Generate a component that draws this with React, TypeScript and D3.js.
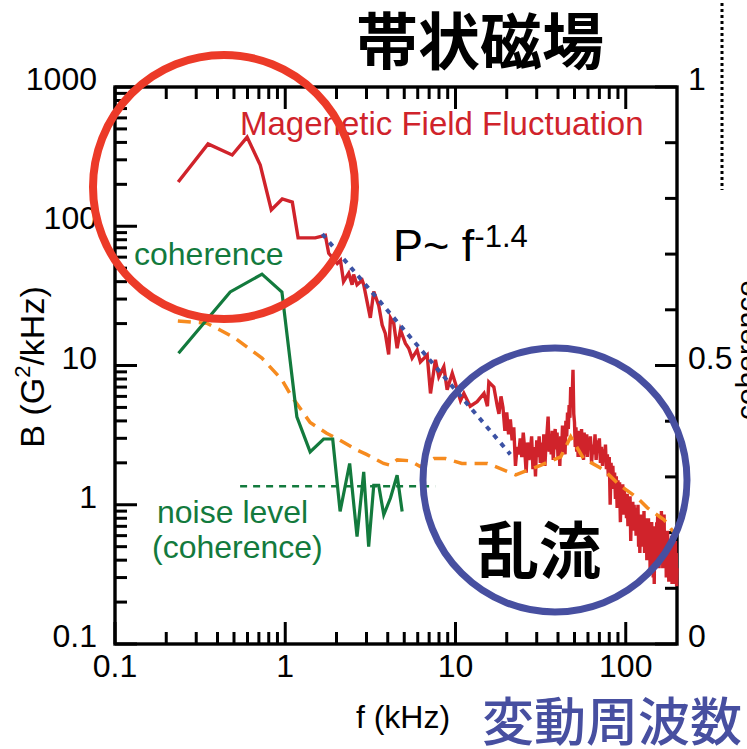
import React from 'react';
import * as d3 from 'd3';

// magnetic field fluctuation spectrum, low frequency part (f in kHz, B in G^2/kHz)
const magLowF = [0.235, 0.352, 0.488, 0.597, 0.713, 0.828, 0.96, 1.1, 1.19, 1.5, 1.72, 1.8, 2.02, 2.11, 2.2, 2.36, 2.47, 2.52, 2.64, 2.83, 2.89, 3.02, 3.16, 3.31, 3.54, 3.71, 3.87, 4.05, 4.15, 4.34, 4.54, 4.75, 5.08, 5.31, 5.56, 5.95, 6.22, 6.82, 7.13, 7.62, 7.98, 8.54, 8.93, 9.57, 10.0, 10.7, 11.2, 12.2, 13.4, 14.7, 15.4, 15.7, 16.8, 17.6];
const magLowB = [208, 390, 325, 437, 275, 131, 157, 149, 82.5, 82.5, 86, 64, 54, 57, 40, 46, 38, 45, 38, 41, 38, 29, 22, 34, 27, 19.5, 17, 12, 22, 20, 13.3, 18, 14.4, 13.3, 11.3, 12.9, 10.6, 11.9, 6.3, 11, 8.3, 9.8, 6.7, 8.8, 7.4, 5.6, 6.3, 5.1, 5.5, 6.3, 5.1, 7.6, 7.0, 5.1];

// FFT bins 18..60 kHz, 0.5 kHz apart
const magMidStart = 18;
const magMidStep = 0.5;
const magMidB = [
  4.5, 6.0, 5.0, 3.4, 4.6, 3.2, 4.1, 2.9, 3.6, 1.9,
  2.6, 2.3, 3.0, 2.2, 3.3, 2.5, 1.7, 2.8, 2.1, 2.4,
  3.1, 1.8, 2.6, 1.6, 2.9, 2.2, 3.1, 2.0, 2.8, 1.9,
  3.2, 1.9, 2.7, 3.3, 4.3, 2.4, 3.0, 2.3, 3.4, 2.1,
  2.9, 3.5, 2.5, 3.3, 2.2, 3.0, 1.9, 3.1, 2.4, 3.7,
  2.6, 3.4, 2.3, 4.0, 3.1, 4.6, 3.5, 5.2, 4.2, 7.0,
  5.0, 6.2, 9.3, 4.5, 3.9, 2.6, 3.6, 2.4, 3.3, 2.2,
  3.4, 2.5, 3.1, 2.2, 3.5, 2.6, 3.0, 2.1, 3.3, 2.4,
  2.9, 2.3, 3.2, 2.2, 3.0,
];

// FFT bins 61..200 kHz, 1 kHz apart
const magHiStart = 61;
const magHiStep = 1;
const magHiB = [
  2.5, 3.1, 2.0, 2.7, 2.3, 3.2, 2.1, 2.9, 2.4, 3.0,
  2.0, 2.6, 1.9, 2.5, 2.1, 2.7, 1.8, 2.3, 1.6, 2.2,
  1.0, 2.0, 1.4, 1.9, 1.3, 1.7, 1.1, 1.6, 0.95, 1.5,
  1.1, 1.45, 0.75, 1.3, 0.95, 1.4, 0.85, 1.3, 1.0, 1.2,
  0.8, 1.2, 0.7, 1.1, 0.95, 1.15, 0.55, 1.0, 0.75, 1.05,
  0.65, 1.0, 0.7, 0.95, 0.6, 0.9, 0.75, 1.0, 0.5, 0.85,
  0.45, 0.8, 0.6, 0.85, 0.5, 0.8, 0.65, 0.9, 0.45, 0.75,
  0.5, 0.8, 0.4, 0.7, 0.55, 0.8, 0.45, 0.7, 0.35, 0.65,
  0.5, 0.75, 0.4, 0.7, 0.3, 0.6, 0.27, 0.65, 0.45, 0.7,
  0.4, 0.75, 0.5, 0.85, 0.45, 0.7, 0.35, 0.8, 0.5, 0.75,
  0.4, 0.9, 0.55, 0.8, 0.35, 0.7, 0.45, 0.85, 0.4, 0.65,
  0.35, 0.6, 0.3, 0.55, 0.4, 0.65, 0.3, 0.55, 0.28, 0.5,
  0.3, 0.55, 0.28, 0.45, 0.3, 0.6, 0.27, 0.5, 0.32, 0.55,
  0.3, 0.5, 0.27, 0.45, 0.28, 0.55, 0.3, 0.45, 0.26, 0.35,
];

// noise level of the spectrum (orange dashed)
const noiseF = [0.234, 0.346, 0.414, 0.508, 0.73, 0.956, 1.09, 1.4, 1.75, 2.0, 2.64, 3.0, 3.78, 4.15, 4.55, 5.4, 6.2, 7.48, 8.7, 10.9, 15.4, 22.6, 31.6, 41.5, 47.5, 56.5, 74.6, 91, 117, 134, 168, 192];
const noiseB = [20.9, 20.1, 18, 15.7, 11.3, 7.9, 6.0, 3.9, 3.26, 3.0, 2.47, 2.3, 1.98, 1.92, 2.1, 2.07, 1.88, 2.15, 2.15, 1.98, 1.98, 1.64, 1.92, 2.21, 3.08, 2.15, 1.78, 1.4, 1.12, 0.95, 0.78, 0.63];

// power law fit P ~ f^-1.4
const fitF = [1.65, 21];
const fitB = [88, 2.3];

// coherence (right axis)
const cohF = [0.236, 0.475, 0.73, 0.956, 1.17, 1.4, 1.68, 1.9, 2.1, 2.39, 2.64, 2.89, 3.09, 3.31, 3.54, 3.79, 4.15, 4.54, 4.86];
const cohV = [0.522, 0.632, 0.664, 0.632, 0.408, 0.345, 0.368, 0.368, 0.238, 0.324, 0.193, 0.309, 0.175, 0.285, 0.285, 0.232, 0.262, 0.303, 0.238];

// coherence noise level
const cohNoiseF = [0.543, 7.6];
const cohNoiseV = [0.283, 0.283];

const xMajor = [0.1, 1, 10, 100];
const xMinor = [0.2, 0.3, 0.4, 0.5, 0.6, 0.7, 0.8, 0.9, 2, 3, 4, 5, 6, 7, 8, 9, 20, 30, 40, 50, 60, 70, 80, 90];
const xLabels = ['0.1', '1', '10', '100'];
const yMajor = [0.1, 1, 10, 100, 1000];
const yMinor = [0.2, 0.3, 0.4, 0.5, 0.6, 0.7, 0.8, 0.9, 2, 3, 4, 5, 6, 7, 8, 9, 20, 30, 40, 50, 60, 70, 80, 90, 200, 300, 400, 500, 600, 700, 800, 900];
const yLabels = ['0.1', '1', '10', '100', '1000'];
const cohMinor = [0.1, 0.2, 0.3, 0.4, 0.6, 0.7, 0.8, 0.9];
const cohMajor = [0, 0.5, 1];
const cohLabels = ['0', '0.5', '1'];

const LATIN = "'Liberation Sans', Arial, sans-serif";
const CJK = "'Noto Sans CJK JP', sans-serif";

const left = 115, right = 677, top = 87, bottom = 644;

const x = d3.scaleLog().domain([0.1, 200]).range([left, right]);
const y = d3.scaleLog().domain([0.1, 1000]).range([bottom, top]);
const yc = d3.scaleLinear().domain([0, 1]).range([bottom, top]);

const logLine = d3.line<[number, number]>().x(d => x(d[0])).y(d => y(d[1]));
const cohLine = d3.line<[number, number]>().x(d => x(d[0])).y(d => yc(d[1]));

const pairs = (fs: number[], vs: number[]) => fs.map((f, i) => [f, vs[i]] as [number, number]);

const magData: [number, number][] = [
  ...pairs(magLowF, magLowB),
  ...magMidB.map((b, i) => [magMidStart + i * magMidStep, b] as [number, number]),
  ...magHiB.map((b, i) => [magHiStart + i * magHiStep, b] as [number, number]),
];

const App = () => {
  return (
    <svg width={747} height={749} style={{ position: 'absolute', left: 0, top: 0, background: '#fff' }}>
      {/* frame and ticks, all ticks point into the plot */}
      <g stroke="#000" strokeWidth={3}>
        {xMinor.map((v, i) => (
          <line key={`xb${i}`} x1={x(v)} x2={x(v)} y1={bottom} y2={bottom - 12} />
        ))}
        {xMinor.map((v, i) => (
          <line key={`xt${i}`} x1={x(v)} x2={x(v)} y1={top} y2={top + 12} />
        ))}
        {xMajor.map((v, i) => (
          <line key={`Xb${i}`} x1={x(v)} x2={x(v)} y1={bottom} y2={bottom - 22} />
        ))}
        {xMajor.map((v, i) => (
          <line key={`Xt${i}`} x1={x(v)} x2={x(v)} y1={top} y2={top + 22} />
        ))}
        {yMinor.map((v, i) => (
          <line key={`yl${i}`} x1={left} x2={left + 12} y1={y(v)} y2={y(v)} />
        ))}
        {yMajor.map((v, i) => (
          <line key={`Yl${i}`} x1={left} x2={left + 22} y1={y(v)} y2={y(v)} />
        ))}
        {cohMinor.map((v, i) => (
          <line key={`cr${i}`} x1={right} x2={right - 12} y1={yc(v)} y2={yc(v)} />
        ))}
        {cohMajor.map((v, i) => (
          <line key={`Cr${i}`} x1={right} x2={right - 22} y1={yc(v)} y2={yc(v)} />
        ))}
        <rect x={left} y={top} width={right - left} height={bottom - top} fill="none" strokeWidth={3.4} />
      </g>

      <g fontFamily={LATIN} fontSize={32} fill="#000">
        {xMajor.map((v, i) => (
          <text key={`x${i}`} x={x(v)} y={677} textAnchor="middle">{xLabels[i]}</text>
        ))}
        {yMajor.map((v, i) => (
          <text key={`y${i}`} x={97} y={y(v) + 3} textAnchor="end">{yLabels[i]}</text>
        ))}
        {cohMajor.map((v, i) => (
          <text key={`c${i}`} x={688} y={yc(v) + 3}>{cohLabels[i]}</text>
        ))}
      </g>

      <path d={logLine(magData) || ''} fill="none" stroke="#D0232B" strokeWidth={3.4} />
      <path d={logLine(pairs(noiseF, noiseB)) || ''} fill="none" stroke="#F68B1F"
        strokeWidth={3.5} strokeDasharray="13,8" />
      <path d={logLine(pairs(fitF, fitB)) || ''} fill="none" stroke="#3C52A4"
        strokeWidth={4} strokeDasharray="5,6" />
      <path d={cohLine(pairs(cohF, cohV)) || ''} fill="none" stroke="#137A3D" strokeWidth={3.2} />
      <path d={cohLine(pairs(cohNoiseF, cohNoiseV)) || ''} fill="none" stroke="#137A3D"
        strokeWidth={2.5} strokeDasharray="7,6" />

      <text x={480} y={65} fontSize={62} fontFamily={CJK} fontWeight={700} textAnchor="middle">帯状磁場</text>
      <text x={240} y={135} fontSize={33} fontFamily={LATIN} fill="#D0232B">Magenetic Field Fluctuation</text>
      <text x={134} y={265} fontSize={32} fontFamily={LATIN} fill="#137A3D">coherence</text>
      <text x={157} y={523} fontSize={32} fontFamily={LATIN} fill="#137A3D">noise level</text>
      <text x={152} y={558} fontSize={32} fontFamily={LATIN} fill="#137A3D">(coherence)</text>
      <text x={477} y={574} fontSize={62} fontFamily={CJK} fontWeight={700}>乱流</text>
      <text x={482} y={741} fontSize={52} fontFamily={CJK} fontWeight={500} fill="#474FA0">変動周波数</text>
      <text x={403} y={728} fontSize={32} fontFamily={LATIN} textAnchor="middle">f (kHz)</text>

      <text x={393} y={261} fontSize={45} fontFamily={LATIN}>
        P~ f<tspan fontSize={31} dy={-14}>-1.4</tspan>
      </text>

      <text transform="translate(44,367) rotate(-90)" textAnchor="middle" fontFamily={LATIN} fontSize={34}>
        B (G<tspan fontSize={22} dy={-14}>2</tspan><tspan dy={14}>/kHz)</tspan>
      </text>

      <text transform="translate(757,350) rotate(-90)" textAnchor="middle" fontFamily={LATIN} fontSize={30}>
        coherence
      </text>
      <line x1={722} x2={722} y1={3} y2={190} stroke="#000" strokeWidth={3} strokeDasharray="3,3" />

      <ellipse cx={224} cy={187} rx={131} ry={132} fill="none" stroke="#EC3A28" strokeWidth={8} />
      <circle cx={555} cy={480} r={132} fill="none" stroke="#474FA0" strokeWidth={7} />
    </svg>
  );
};

export default App;
